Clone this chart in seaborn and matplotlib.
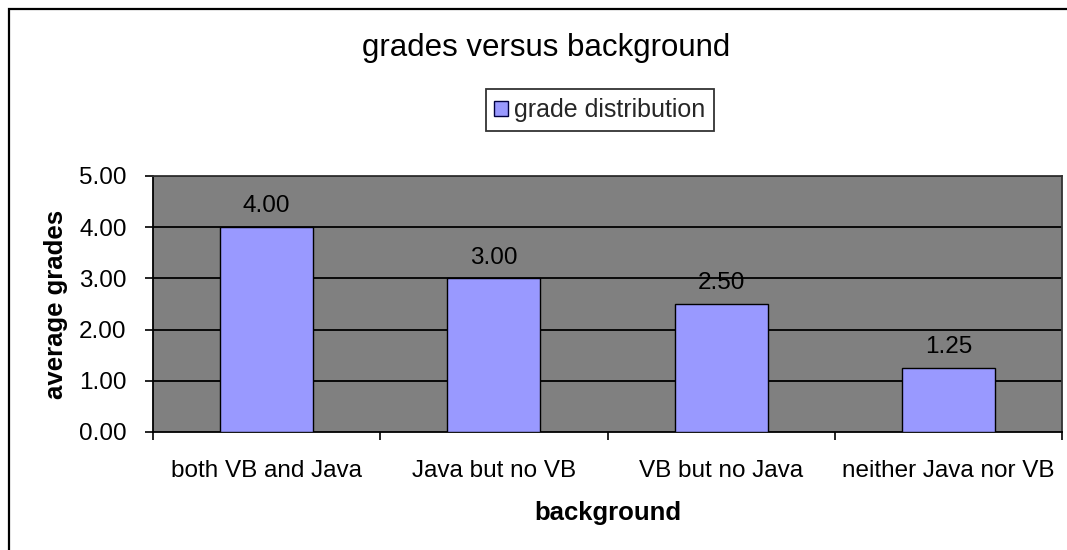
import matplotlib
matplotlib.use("Agg")
import matplotlib.pyplot as plt
import seaborn as sns
import pandas as pd
from matplotlib.patches import Rectangle, Patch
from matplotlib.ticker import FixedLocator, NullFormatter

categories = ["both VB and Java", "Java but no VB", "VB but no Java", "neither Java nor VB"]
grades = [4.00, 3.00, 2.50, 1.25]
series_name = "grade distribution"
title = "grades versus background"
xlabel = "background"
ylabel = "average grades"
yticks = [0.0, 1.0, 2.0, 3.0, 4.0, 5.0]

df = pd.DataFrame({"background": categories, "grade": grades, "series": series_name})

sns.set_theme(style="white")
plt.rcParams["font.family"] = ["Liberation Sans", "DejaVu Sans"]

W, H = 1067, 550
fig = plt.figure(figsize=(W / 100, H / 100), dpi=100)
fig.patch.set_facecolor("white")

# outer frame (left/top visible, right/bottom cropped)
fig.add_artist(Rectangle((8.5 / W, -0.1), 1.2, 1 - 8.5 / H + 0.1, transform=fig.transFigure,
                         fill=False, edgecolor="black", linewidth=1.6))

left, right, top, bottom = 153, 1062, 176, 432
ax = fig.add_axes([left / W, 1 - bottom / H, (right - left) / W, (bottom - top) / H])
ax.set_facecolor("#808080")

sns.barplot(data=df, x="background", y="grade", hue="series", palette=["#9999FF"],
            saturation=1, edgecolor="black", linewidth=1.0, width=0.41, ax=ax, zorder=3,
            legend=False)

ax.set_xlim(-0.5, len(categories) - 0.5)
ax.set_ylim(0, 5)
ax.set_yticks(yticks)
ax.set_yticklabels([f"{v:.2f}" for v in yticks])
for y in yticks[1:]:
    ax.axhline(y, color="black", linewidth=1.3, zorder=1)

# category boundary ticks
ax.xaxis.set_major_locator(FixedLocator([i - 0.5 for i in range(len(categories) + 1)]))
ax.xaxis.set_major_formatter(NullFormatter())
ax.xaxis.set_minor_locator(FixedLocator(list(range(len(categories)))))
ax.set_xticklabels(categories, minor=True)
ax.tick_params(axis="x", which="major", bottom=True, length=6, width=1.2, color="black", direction="out")
ax.tick_params(axis="x", which="minor", bottom=True, length=0, pad=20, labelsize=17.5, labelcolor="black")
ax.tick_params(axis="y", which="major", left=True, length=6, width=1.2, color="black", direction="out",
               pad=13, labelsize=17.5, labelcolor="black")

for s in ["left", "bottom"]:
    ax.spines[s].set_color("black")
    ax.spines[s].set_linewidth(1.3)
for s in ["top", "right"]:
    ax.spines[s].set_color("#333333")
    ax.spines[s].set_linewidth(1.3)

for i, v in enumerate(grades):
    ax.annotate(f"{v:.2f}", xy=(i, v), xytext=(0, 7), textcoords="offset points",
                ha="center", va="bottom", fontsize=17.5, color="black")

ax.set_xlabel(xlabel, fontsize=18.5, fontweight="bold", labelpad=14, color="black")
ax.set_ylabel(ylabel, fontsize=18.5, fontweight="bold", labelpad=8, color="black")

fig.text(546 / W, 1 - 48 / H, title, ha="center", va="center", fontsize=22.5, color="black")

handle = Patch(facecolor="#9999FF", edgecolor="#000040", linewidth=1.0)
leg = fig.legend([handle], [series_name], loc="center", bbox_to_anchor=(600 / W, 1 - 110 / H),
                 frameon=True, fancybox=False, fontsize=18, handlelength=0.55, handleheight=0.55,
                 handletextpad=0.25, borderpad=0.35)
leg.get_frame().set_edgecolor("black")
leg.get_frame().set_linewidth(1.3)

fig.savefig("out.png", dpi=100)
